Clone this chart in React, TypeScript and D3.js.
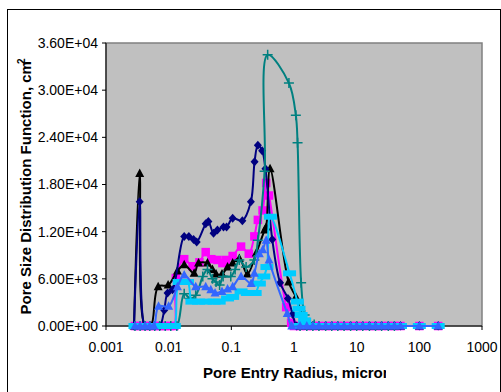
import React from "react";
import * as d3 from "d3";

type P = [number, number];

// ---------- data (radius in micron, PSD value) ----------
const xTickValues = [0.001, 0.01, 0.1, 1, 10, 100, 1000];
const xTickLabels = ["0.001", "0.01", "0.1", "1", "10", "100", "1000"];
const yTickValues = [0, 6000, 12000, 18000, 24000, 30000, 36000];
const yTickLabels = ["0.00E+00", "6.00E+03", "1.20E+04", "1.80E+04", "2.40E+04", "3.00E+04", "3.60E+04"];

const tailZeros: P[] = [
  [1.25, 0], [1.6, 0], [2.0, 0], [2.5, 0], [3.2, 0], [4, 0], [5, 0], [6.3, 0], [8, 0], [10, 0],
  [12.5, 0], [16, 0], [20, 0], [25, 0], [32, 0], [40, 0], [50, 0], [100, 0], [200, 0],
];

const navyBody: P[] = [
  [0.0028, 0], [0.00345, 15800], [0.0042, 0], [0.005, 0], [0.006, 0], [0.0072, 0], [0.0085, 2000],
  [0.0096, 4200], [0.0115, 4600], [0.0177, 11400], [0.021, 11400], [0.025, 11000], [0.028, 10700],
  [0.039, 13000], [0.043, 13300], [0.052, 11800], [0.06, 12200], [0.075, 12600], [0.084, 12600],
  [0.105, 13700], [0.15, 13400], [0.205, 15800], [0.235, 20900], [0.265, 23000], [0.31, 22300],
  [0.35, 20000], [0.45, 11000], [0.6, 5500], [0.8, 3500], [0.95, 1500], [1.1, 0],
];
const magentaBody: P[] = [
  [0.0029, 0], [0.0035, 0], [0.0042, 0], [0.005, 0], [0.006, 0], [0.0072, 0], [0.0088, 0],
  [0.0105, 0], [0.0123, 0], [0.013, 6100], [0.0177, 8500], [0.024, 7600], [0.031, 8100],
  [0.039, 9400], [0.048, 8500], [0.06, 8400], [0.072, 8000], [0.082, 8400], [0.105, 8900],
  [0.143, 10100], [0.19, 9200], [0.233, 11400], [0.265, 13500], [0.315, 14700], [0.36, 18200],
  [0.4, 16600], [0.75, 2400], [0.9, 400], [1.0, 0],
];
const blackBody: P[] = [
  [0.0028, 0], [0.00345, 19400], [0.0042, 0], [0.0052, 0], [0.0068, 5000], [0.0098, 5200],
  [0.0138, 7000], [0.0177, 7800], [0.0255, 6700], [0.03, 8000], [0.0416, 8000], [0.05, 7200],
  [0.057, 6600], [0.071, 6600], [0.087, 7500], [0.105, 8000], [0.134, 8600], [0.18, 6600],
  [0.25, 9300], [0.34, 12200], [0.36, 12600], [0.415, 20000], [0.82, 5600], [1.07, 3700],
  [1.4, 1200], [1.7, 200],
];
const tealBody: P[] = [
  [0.0029, 0], [0.0035, 0], [0.0042, 0], [0.005, 0], [0.006, 0], [0.0072, 0], [0.0088, 0],
  [0.0108, 0], [0.0135, 0], [0.0177, 4100], [0.022, 3500], [0.027, 3900], [0.035, 6300],
  [0.0416, 7200], [0.05, 6000], [0.057, 5600], [0.065, 5200], [0.074, 6300], [0.098, 6300],
  [0.115, 7200], [0.134, 8400], [0.172, 7500], [0.233, 8400], [0.265, 10900], [0.34, 19700],
  [0.38, 34500], [0.83, 30900], [1.07, 26800], [1.14, 23300], [1.3, 5500], [1.48, 1400],
  [1.75, 400], [2.1, 200],
];
const cyanBody: P[] = [
  [0.0029, 0], [0.0035, 0], [0.0042, 0], [0.005, 0], [0.006, 0], [0.0072, 0], [0.0088, 0],
  [0.0105, 0], [0.0123, 0], [0.0147, 5600], [0.02, 5600], [0.0235, 3100], [0.03, 3100],
  [0.039, 3100], [0.053, 3100], [0.064, 3100], [0.087, 3500], [0.105, 3700], [0.143, 4400],
  [0.18, 4200], [0.24, 4200], [0.28, 5400], [0.33, 6300], [0.37, 7500], [0.42, 13900],
  [0.85, 6700], [1.13, 3100], [1.2, 2200], [1.3, 1400], [1.48, 700], [1.7, 0],
];
const blueBody: P[] = [
  [0.0029, 0], [0.0035, 0], [0.0042, 0], [0.005, 0], [0.0058, 0], [0.0069, 2500], [0.01, 2500],
  [0.0138, 5000], [0.0177, 6500], [0.027, 5000], [0.039, 5000], [0.047, 4600], [0.055, 4200],
  [0.071, 4400], [0.087, 4700], [0.105, 5000], [0.143, 6300], [0.207, 5400], [0.233, 6700],
  [0.28, 9200], [0.317, 9700], [0.36, 10900], [0.4, 8400], [0.78, 1600], [0.92, 0],
];

const seriesList = [
  { name: "magenta", color: "#FF00FF", marker: "square", points: [...magentaBody, ...tailZeros] },
  { name: "black", color: "#000000", marker: "triangle", points: [...blackBody, ...tailZeros] },
  { name: "navy", color: "#000080", marker: "diamond", points: [...navyBody, ...tailZeros] },
  { name: "teal", color: "#008080", marker: "plus", points: [...tealBody, ...tailZeros.slice(0, 16)] },
  { name: "cyan", color: "#00CCFF", marker: "dash", points: [...cyanBody, ...tailZeros] },
  { name: "blue", color: "#3366FF", marker: "triangle", points: [...blueBody, ...tailZeros] },
];

// ---------- layout ----------
const W = 501;
const H = 392;
const plot = { left: 106, right: 482, top: 43, bottom: 326 };
const FONT = "Arial, 'Liberation Sans', sans-serif";

function Marker({ type, x, y, color }: { type: string; x: number; y: number; color: string }) {
  switch (type) {
    case "diamond":
      return <path d={`M${x},${y - 4.5}L${x + 4},${y}L${x},${y + 4.5}L${x - 4},${y}Z`} fill={color} />;
    case "square":
      return <rect x={x - 4.25} y={y - 4.25} width={8.5} height={8.5} fill={color} />;
    case "triangle":
      return <path d={`M${x},${y - 5}L${x + 4.5},${y + 3.5}L${x - 4.5},${y + 3.5}Z`} fill={color} />;
    case "plus":
      return (
        <path d={`M${x - 5},${y}H${x + 5}M${x},${y - 5}V${y + 5}`} stroke={color} strokeWidth={1.5} fill="none" />
      );
    case "dash":
      return <rect x={x - 6.5} y={y - 3} width={13} height={6} fill={color} />;
    default:
      return null;
  }
}

export default function App() {
  const x = d3.scaleLog().domain([0.001, 1000]).range([plot.left, plot.right]);
  const y = d3.scaleLinear().domain([0, 36000]).range([plot.bottom, plot.top]);
  const line = d3
    .line<P>()
    .x((d) => x(d[0]))
    .y((d) => y(d[1]))
    .curve(d3.curveCatmullRom.alpha(0.5));

  return (
    <svg
      width={W}
      height={H}
      style={{ position: "fixed", left: 0, top: 0, background: "#fff" }}
      fontFamily={FONT}
    >
      <defs>
        <clipPath id="xtitleClip">
          <rect x={0} y={350} width={386} height={40} />
        </clipPath>
      </defs>
      <rect x={7.5} y={9.5} width={493} height={400} fill="#fff" stroke="#000" strokeWidth={1} />
      <rect
        x={plot.left}
        y={plot.top}
        width={plot.right - plot.left}
        height={plot.bottom - plot.top}
        fill="#C0C0C0"
        stroke="#808080"
        strokeWidth={1.5}
      />
      {/* axes */}
      <line x1={plot.left} x2={plot.left} y1={plot.top} y2={plot.bottom} stroke="#000" />
      <line x1={plot.left} x2={plot.right} y1={plot.bottom} y2={plot.bottom} stroke="#000" />
      {yTickValues.map((v, i) => (
        <g key={"yt" + i}>
          <line x1={plot.left - 4} x2={plot.left} y1={y(v)} y2={y(v)} stroke="#000" />
          <text x={98} y={y(v)} dy="0.35em" textAnchor="end" fontSize={14}>
            {yTickLabels[i]}
          </text>
        </g>
      ))}
      {xTickValues.map((v, i) => (
        <g key={"xt" + i}>
          <line x1={x(v)} x2={x(v)} y1={plot.bottom} y2={plot.bottom + 4} stroke="#000" />
          <text x={x(v)} y={352} textAnchor="middle" fontSize={14}>
            {xTickLabels[i]}
          </text>
        </g>
      ))}
      {/* series */}
      {seriesList.map((s) => (
        <g key={s.name}>
          <path d={line(s.points) || ""} fill="none" stroke={s.color} strokeWidth={2} />
          {s.points.map((p, j) => (
            <Marker key={j} type={s.marker} x={x(p[0])} y={y(p[1])} color={s.color} />
          ))}
        </g>
      ))}
      {/* titles */}
      <g clipPath="url(#xtitleClip)">
        <text x={203} y={378} fontSize={15} fontWeight="bold" textLength={189} lengthAdjust="spacingAndGlyphs">
          Pore Entry Radius, micron
        </text>
      </g>
      <text
        transform={`translate(31,${(plot.top + plot.bottom) / 2 + 2}) rotate(-90)`}
        textAnchor="middle"
        fontSize={15}
        fontWeight="bold"
      >
        Pore Size Distribution Function, cm
        <tspan fontSize={10} dy={-6} dx={-3}>
          2
        </tspan>
      </text>
    </svg>
  );
}
